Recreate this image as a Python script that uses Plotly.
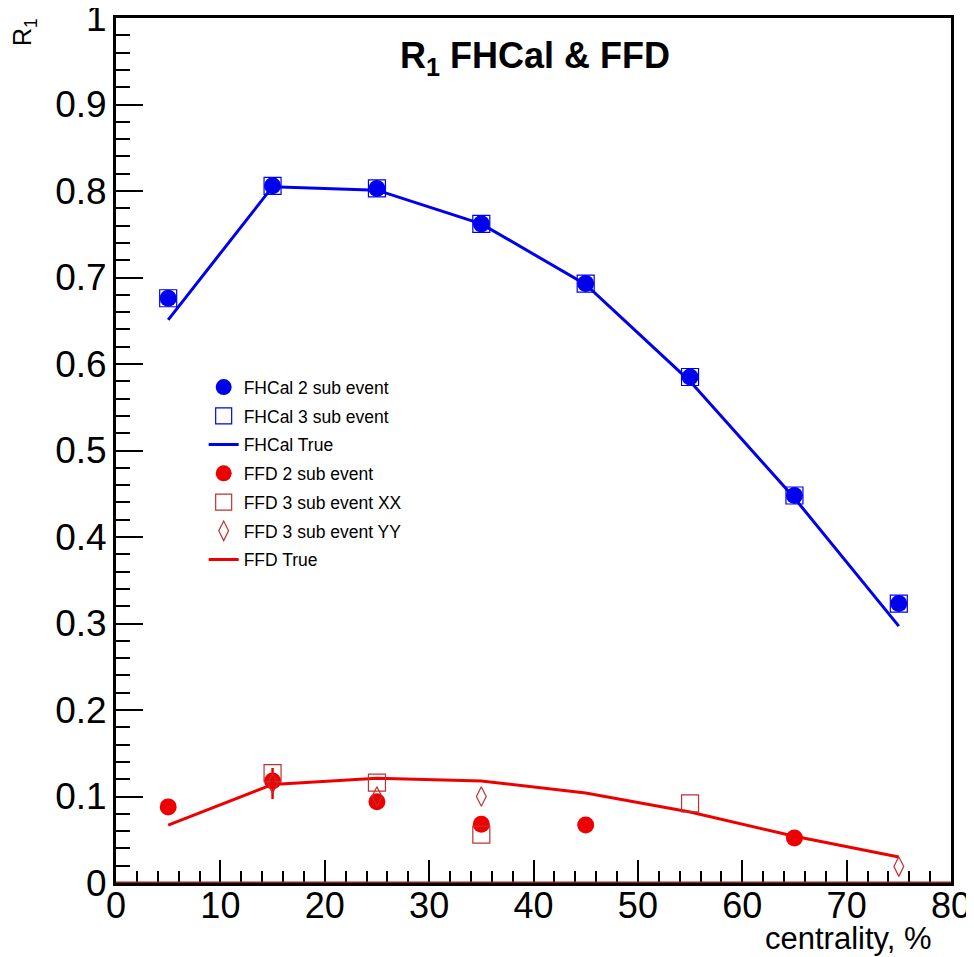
import plotly.graph_objects as go

centrality = [5, 15, 25, 35, 45, 55, 65, 75]

fhcal_2sub = [0.676, 0.806, 0.803, 0.762, 0.693, 0.585, 0.448, 0.323]
fhcal_3sub = [0.676, 0.806, 0.803, 0.762, 0.693, 0.585, 0.448, 0.323]
fhcal_true = [0.651, 0.805, 0.801, 0.762, 0.692, 0.580, 0.445, 0.297]

ffd_2sub_x = [5, 15, 25, 35, 45, 65]
ffd_2sub = [0.088, 0.118, 0.094, 0.068, 0.067, 0.052]
ffd_3sub_xx_x = [15, 25, 35, 55]
ffd_3sub_xx = [0.127, 0.116, 0.056, 0.092]
ffd_3sub_yy_x = [15, 25, 35, 75]
ffd_3sub_yy = [0.115, 0.100, 0.100, 0.019]
ffd_3sub_yy_err = [0.018, 0.0, 0.0, 0.0]
ffd_true = [0.067, 0.114, 0.121, 0.118, 0.104, 0.082, 0.054, 0.030]

BLUE = "#0000ee"
RED = "#ee0000"
DRED = "#c03030"
FONT = "Liberation Sans, Arial, sans-serif"

fig = go.Figure()

fig.add_trace(go.Scatter(x=centrality, y=fhcal_true, mode="lines",
                         line=dict(color=BLUE, width=3), name="FHCal True",
                         legendgroup="c", legendrank=3))
fig.add_trace(go.Scatter(x=centrality, y=ffd_true, mode="lines",
                         line=dict(color=RED, width=3), name="FFD True",
                         legendgroup="g", legendrank=7))
fig.add_trace(go.Scatter(x=centrality, y=fhcal_2sub, mode="markers",
                         marker=dict(symbol="circle", size=17, color=BLUE),
                         name="FHCal 2 sub event", legendgroup="a", legendrank=1))
fig.add_trace(go.Scatter(x=centrality, y=fhcal_3sub, mode="markers",
                         marker=dict(symbol="square-open", size=17, color=BLUE,
                                     line=dict(width=1.2, color=BLUE)),
                         name="FHCal 3 sub event", legendgroup="b", legendrank=2))
fig.add_trace(go.Scatter(x=ffd_2sub_x, y=ffd_2sub, mode="markers",
                         marker=dict(symbol="circle", size=17, color=RED),
                         name="FFD 2 sub event", legendgroup="d", legendrank=4))
fig.add_trace(go.Scatter(x=ffd_3sub_xx_x, y=ffd_3sub_xx, mode="markers",
                         marker=dict(symbol="square-open", size=17, color=DRED,
                                     line=dict(width=1.2, color=DRED)),
                         name="FFD 3 sub event XX", legendgroup="e", legendrank=5))
fig.add_trace(go.Scatter(x=ffd_3sub_yy_x, y=ffd_3sub_yy, mode="markers",
                         marker=dict(symbol="diamond-tall-open", size=14, color=DRED,
                                     line=dict(width=1.2, color=DRED)),
                         error_y=dict(type="data", array=ffd_3sub_yy_err, color=RED,
                                      thickness=2.5, width=0),
                         name="FFD 3 sub event YY", legendgroup="f", legendrank=6))

axis_common = dict(
    showgrid=False, zeroline=False, automargin=False,
    showline=True, linecolor="black", linewidth=3, mirror=True,
    ticks="inside", tickcolor="black", tickwidth=2.2,
    ticklabeloverflow="allow",
)

fig.update_xaxes(range=[0, 80], dtick=10, ticklen=23, ticklabelstandoff=-11,
                 tickfont=dict(family=FONT, size=36, color="black"),
                 minor=dict(ticks="inside", dtick=2, ticklen=12, tickwidth=2.2, tickcolor="black"),
                 **axis_common)
fig.update_yaxes(range=[0, 1], dtick=0.1, ticklen=27, ticklabelstandoff=-1,
                 tickfont=dict(family=FONT, size=37, color="black"),
                 minor=dict(ticks="inside", dtick=0.02, ticklen=14, tickwidth=2.2, tickcolor="black"),
                 **axis_common)

# dark red baseline at y=0 as in the reference
fig.add_shape(type="line", xref="paper", yref="y", x0=0, x1=1, y0=0, y1=0,
              line=dict(color="#9a2020", width=3))

fig.add_annotation(text="<b>R<sub>1</sub> FHCal & FFD</b>", xref="paper", yref="paper",
                   x=0.502, y=0.954, showarrow=False, xanchor="center", yanchor="middle",
                   font=dict(family=FONT, size=36, color="black"))
fig.add_annotation(text="R<sub>1</sub>", xref="paper", yref="paper",
                   x=-0.11, y=0.984, textangle=-90, showarrow=False,
                   xanchor="center", yanchor="middle",
                   font=dict(family=FONT, size=25, color="black"))
fig.add_annotation(text="centrality, %", xref="paper", yref="paper",
                   x=0.98, y=-0.064, xanchor="right", yanchor="middle", showarrow=False,
                   font=dict(family=FONT, size=31, color="black"))

fig.update_layout(
    width=966, height=949,
    margin=dict(l=108, r=23, t=10, b=74),
    paper_bgcolor="white", plot_bgcolor="white",
    showlegend=True,
    legend=dict(x=0.105, y=0.594, xanchor="left", yanchor="top",
                bgcolor="rgba(0,0,0,0)", borderwidth=0,
                tracegroupgap=3, itemsizing="trace",
                font=dict(family=FONT, size=17.5, color="black")),
)

fig.write_html("out.html")
